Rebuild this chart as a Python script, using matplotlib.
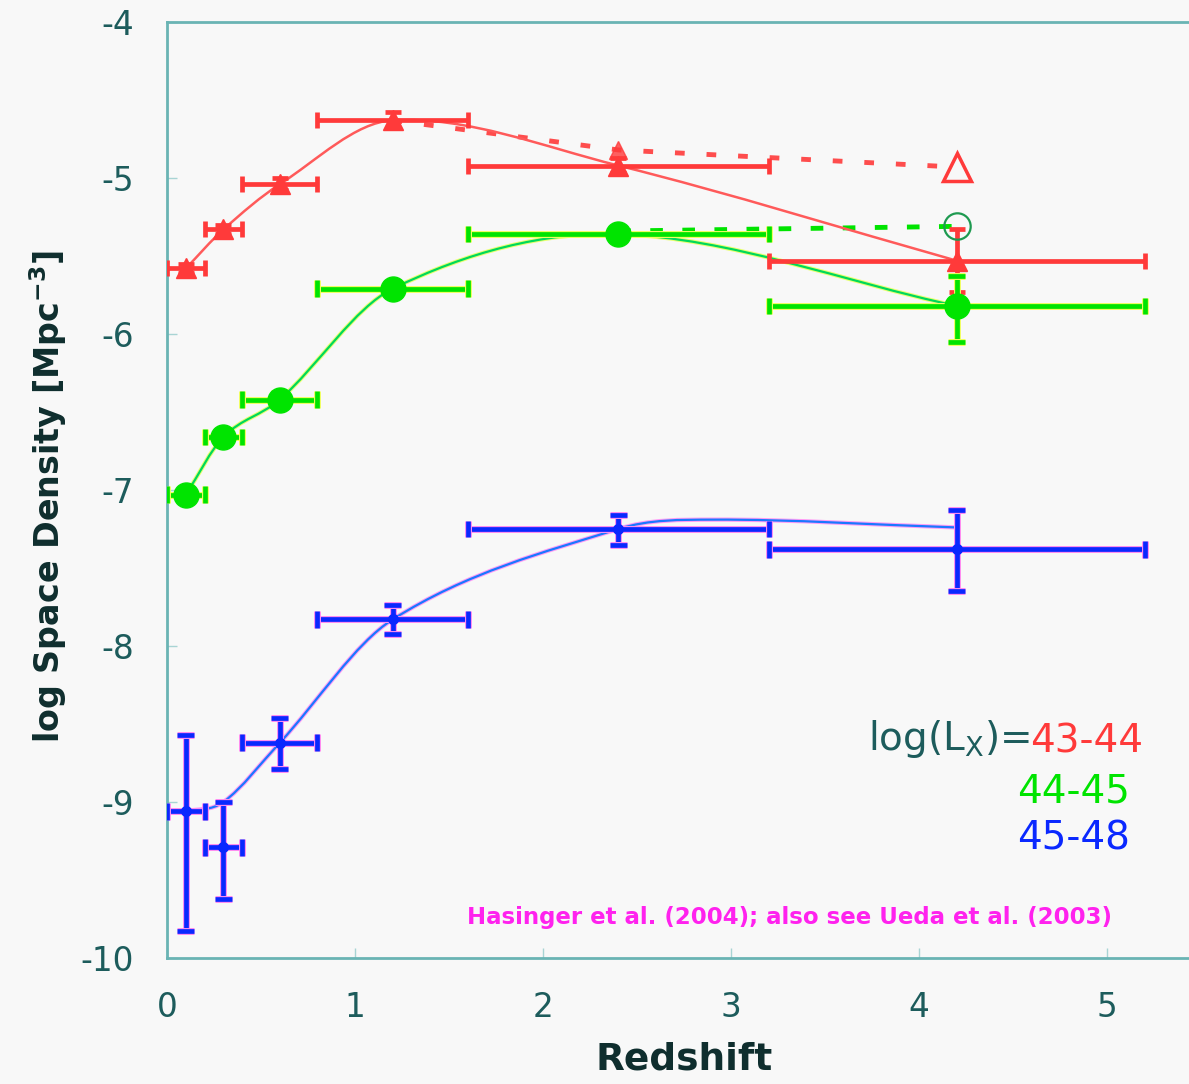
import matplotlib
matplotlib.use('Agg')
import matplotlib.pyplot as plt
import matplotlib.patheffects as pe
from matplotlib.path import Path
from matplotlib.patches import PathPatch
import numpy as np

plt.rcParams['font.family'] = ['DejaVu Sans']
plt.rcParams['mathtext.default'] = 'regular'

### DATA: space density vs redshift in three luminosity bins

# redshift bins (centre, lower, upper)
z_mid = [0.1, 0.3, 0.6, 1.2, 2.4, 4.2]
z_lo = [0.0, 0.2, 0.4, 0.8, 1.6, 3.2]
z_hi = [0.2, 0.4, 0.8, 1.6, 3.2, 5.2]

# log(Lx) = 43-44
red_y = [-5.58, -5.33, -5.04, -4.63, -4.92, -5.53]
red_up = [0.03, 0.03, 0.04, 0.05, 0.05, 0.20]
red_dn = [0.03, 0.03, 0.04, 0.05, 0.05, 0.20]
red_lim_z = [1.2, 2.4, 4.2]
red_lim_y = [-4.63, -4.82, -4.93]

# log(Lx) = 44-45
green_y = [-7.03, -6.66, -6.42, -5.71, -5.36, -5.82]
green_up = [0.03, 0.03, 0.04, 0.03, 0.03, 0.19]
green_dn = [0.03, 0.03, 0.04, 0.03, 0.03, 0.23]
green_lim_z = [2.4, 4.2]
green_lim_y = [-5.34, -5.31]

# log(Lx) = 45-48
blue_y = [-9.06, -9.29, -8.62, -7.83, -7.25, -7.38]
blue_up = [0.49, 0.29, 0.16, 0.09, 0.09, 0.25]
blue_dn = [0.77, 0.33, 0.17, 0.09, 0.10, 0.27]
# model curve for the high luminosity bin
blue_fit_z = [0.1, 0.3, 0.6, 1.2, 2.4, 2.9, 4.2]
blue_fit_y = [-9.06, -9.00, -8.62, -7.83, -7.25, -7.19, -7.24]

xticks = [0, 1, 2, 3, 4, 5]
yticks = [-4, -5, -6, -7, -8, -9, -10]

RED = '#ff3a3a'
GREEN = '#00e400'
BLUE = '#0a28ff'
TEAL = '#1d5c5c'
DARK = '#0f2e2e'
SPINE = '#6ab4b4'


#Smooth curve through the points: cubic Hermite in x, drawn as Bezier segments
def smooth(ax, xs, ys, color, lw, halo=None):
    x = np.asarray(xs, float)
    y = np.asarray(ys, float)
    m = np.empty_like(y)
    m[1:-1] = (y[2:] - y[:-2]) / (x[2:] - x[:-2])
    m[0] = (y[1] - y[0]) / (x[1] - x[0])
    m[-1] = (y[-1] - y[-2]) / (x[-1] - x[-2])
    verts = [(x[0], y[0])]
    codes = [Path.MOVETO]
    for i in range(len(x) - 1):
        h = x[i + 1] - x[i]
        verts += [(x[i] + h / 3, y[i] + m[i] * h / 3),
                  (x[i + 1] - h / 3, y[i + 1] - m[i + 1] * h / 3),
                  (x[i + 1], y[i + 1])]
        codes += [Path.CURVE4] * 3
    patch = PathPatch(Path(verts, codes), fill=False, edgecolor=color, lw=lw, zorder=2)
    if halo:
        patch.set_path_effects([pe.withStroke(linewidth=lw + 1.5, foreground=halo)])
    ax.add_patch(patch)


def bins(ax, y, up, dn, color, marker, ms, halo=None):
    xerr = [np.array(z_mid) - np.array(z_lo), np.array(z_hi) - np.array(z_mid)]
    cont = ax.errorbar(z_mid, y, xerr=xerr, yerr=[dn, up], fmt=marker, color=color,
                       ms=ms, elinewidth=3.4, capsize=6, capthick=3.4, zorder=3)
    if halo:
        for art in cont.lines[1] + cont.lines[2]:
            art.set_path_effects([pe.Stroke(linewidth=5, foreground=halo), pe.Normal()])
    return cont


fig = plt.figure(figsize=(11.89, 10.84), dpi=100)
fig.patch.set_facecolor('#f8f8f8')
ax = fig.add_axes([167 / 1189, 126 / 1084, 5.8 * 188 / 1189, 936 / 1084])
ax.set_facecolor('#f8f8f8')

# upper limits (dashed, open symbols)
ax.plot(red_lim_z, red_lim_y, color=RED, lw=3.5, dashes=(2, 4.5), zorder=2, alpha=0.9)
ax.plot(red_lim_z[-1], red_lim_y[-1], marker='^', ms=20, mfc='none', mec=RED, mew=2.5, zorder=4)
ax.plot(red_lim_z[1], red_lim_y[1], marker='^', ms=13, color=RED, alpha=0.8, zorder=4)
ax.plot(green_lim_z, green_lim_y, color=GREEN, lw=3.5, dashes=(2.6, 4), zorder=2)
ax.plot(green_lim_z[-1], green_lim_y[-1], marker='o', ms=19, mfc='none', mec='#1e9a50', mew=1.6, zorder=4)

# curves
smooth(ax, z_mid, red_y, '#ff5a5a', 1.8)
smooth(ax, z_mid, green_y, '#00d85a', 1.6, halo='#eaff70')
smooth(ax, blue_fit_z, blue_fit_y, '#1a78ff', 1.6, halo='#ff9cf5')

# data points
bins(ax, red_y, red_up, red_dn, RED, '^', 15)
bins(ax, green_y, green_up, green_dn, GREEN, 'o', 18, halo='#f0ff60')
bins(ax, blue_y, blue_up, blue_dn, BLUE, 'o', 7, halo='#ff8cf0')

ax.set_xlim(0, 5.8)
ax.set_ylim(-10, -4)
ax.set_xticks(xticks)
ax.set_yticks(yticks)
ax.set_xticklabels([str(t) for t in xticks])
ax.set_yticklabels([str(t) for t in yticks])
ax.tick_params(direction='in', length=7, width=1, color='#a8d4d4', labelcolor=TEAL,
               labelsize=23.5)
ax.tick_params(axis='y', pad=24)
ax.tick_params(axis='x', pad=24)
for s in ax.spines.values():
    s.set_color(SPINE)
    s.set_linewidth(2)

ax.set_xlabel('Redshift', fontsize=27, fontweight='bold', color=DARK, va='top')
ax.xaxis.set_label_coords(2.75 / 5.8, -0.0887)
ax.set_ylabel(r'log Space Density [Mpc$^{-3}$]', fontsize=24, fontweight='bold', color=DARK)
ax.yaxis.set_label_coords(-0.09, 0.4925)

# luminosity key
t1 = ax.text(5.19, -8.585, '43-44', color=RED, fontsize=28, ha='right', va='center_baseline')
ax.annotate(r'log(L$_{X}$)=', xy=(0, 0), xycoords=t1, color=TEAL, fontsize=28,
            ha='right', va='bottom')
ax.text(5.12, -8.91, '44-45', color=GREEN, fontsize=28, ha='right', va='center_baseline')
ax.text(5.12, -9.21, '45-48', color=BLUE, fontsize=28, ha='right', va='center_baseline')

ax.text(3.31, -9.74, 'Hasinger et al. (2004); also see Ueda et al. (2003)', color='#ff22ee',
        fontsize=16.5, fontweight='bold', ha='center', va='center')

fig.savefig('out.png', dpi=100, facecolor=fig.get_facecolor())
